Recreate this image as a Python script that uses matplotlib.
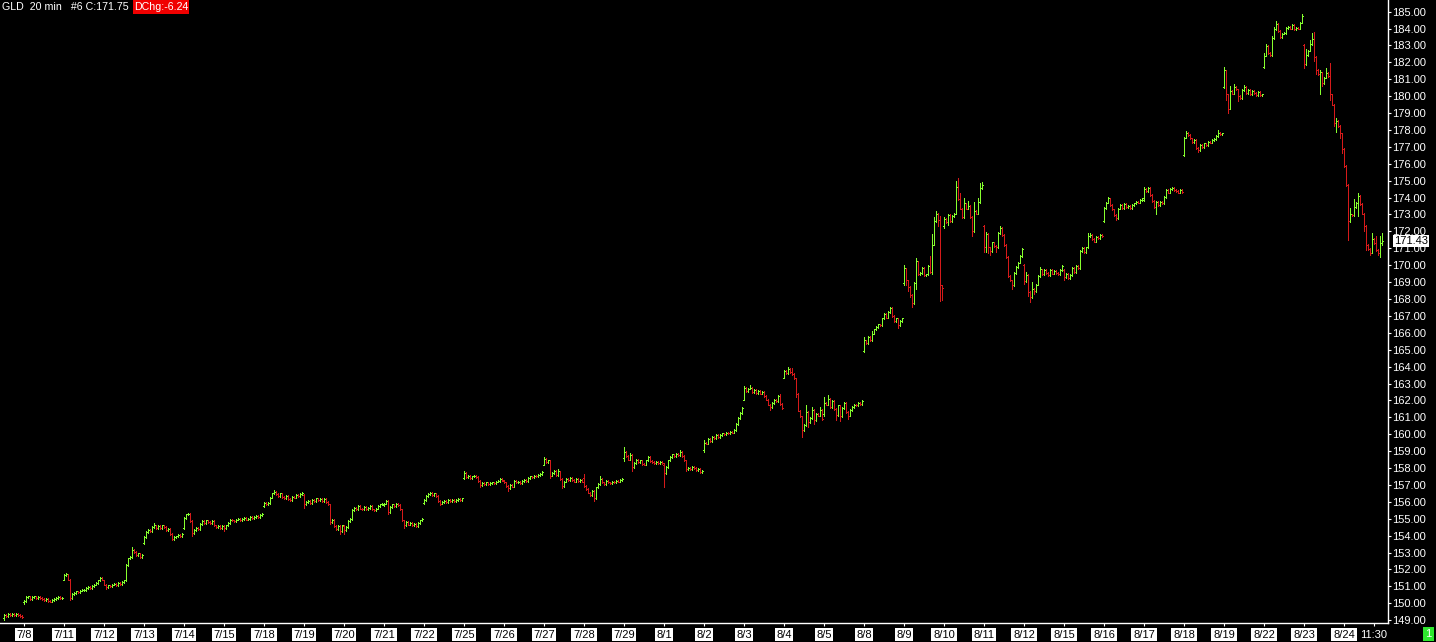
import matplotlib
matplotlib.use("Agg")
import matplotlib.pyplot as plt
from matplotlib.patches import Rectangle
from matplotlib.transforms import blended_transform_factory

plt.rcParams['font.family'] = ['Liberation Sans', 'DejaVu Sans']

# ---------------- data (20-min bars, GLD) ----------------
# each day: first open, closes per bar, high overrides {bar: high}, low overrides {bar: low}
day_labels = ["7/8", "7/11", "7/12", "7/13", "7/14", "7/15", "7/18", "7/19", "7/20",
              "7/21", "7/22", "7/25", "7/26", "7/27", "7/28", "7/29", "8/1", "8/2",
              "8/3", "8/4", "8/5", "8/8", "8/9", "8/10", "8/11", "8/12", "8/15",
              "8/16", "8/17", "8/18", "8/19", "8/22", "8/23", "8/24"]

open_0707 = 149.10
c_0707 = [149.30, 149.25, 149.35, 149.30, 149.35, 149.30, 149.35, 149.30, 149.25, 149.20]
hi_0707 = {}
lo_0707 = {0: 149.00}

open_0708 = 150.05
c_0708 = [150.15, 150.35, 150.40, 150.25, 150.35, 150.40, 150.30, 150.35, 150.30, 150.25,
          150.20, 150.25, 150.15, 150.10, 150.20, 150.25, 150.30, 150.35, 150.30, 150.30]
hi_0708 = {2: 150.45}
lo_0708 = {0: 149.98}

open_0711 = 151.40
c_0711 = [151.65, 151.70, 151.40, 150.30, 150.55, 150.60, 150.70, 150.65, 150.75, 150.80,
          150.80, 150.90, 150.95, 150.90, 151.00, 151.10, 151.20, 151.35, 151.50, 151.40]
hi_0711 = {1: 151.78}
lo_0711 = {3: 150.20}

open_0712 = 151.35
c_0712 = [151.10, 150.95, 151.05, 151.00, 151.10, 151.15, 151.05, 151.20, 151.15, 151.25,
          151.35, 152.25, 152.65, 152.75, 153.15, 153.05, 152.85, 152.95, 152.75, 152.85]
hi_0712 = {14: 153.35}
lo_0712 = {1: 150.85}

open_0713 = 153.55
c_0713 = [153.90, 154.20, 154.35, 154.25, 154.50, 154.60, 154.45, 154.55, 154.45, 154.60,
          154.50, 154.35, 154.40, 154.10, 153.80, 153.90, 153.95, 154.05, 153.95, 154.10]
hi_0713 = {5: 154.72}
lo_0713 = {14: 153.72}

open_0714 = 154.45
c_0714 = [155.05, 155.25, 155.30, 154.85, 154.15, 154.35, 154.45, 154.40, 154.70, 154.85,
          154.75, 154.90, 154.80, 154.75, 154.85, 154.60, 154.50, 154.55, 154.45, 154.55]
hi_0714 = {2: 155.35}
lo_0714 = {4: 154.00}

open_0715 = 154.55
c_0715 = [154.45, 154.60, 154.75, 154.95, 154.90, 154.85, 154.95, 155.00, 154.90, 155.00,
          155.05, 154.95, 155.00, 155.10, 155.05, 155.10, 155.15, 155.10, 155.20, 155.30]
hi_0715 = {}
lo_0715 = {0: 154.30}

open_0718 = 155.75
c_0718 = [155.95, 155.85, 155.95, 156.25, 156.50, 156.60, 156.45, 156.35, 156.50, 156.30,
          156.20, 156.35, 156.15, 156.10, 156.30, 156.25, 156.40, 156.35, 156.45, 156.55]
hi_0718 = {5: 156.68}
lo_0718 = {}

open_0719 = 156.40
c_0719 = [155.85, 156.00, 156.05, 155.95, 156.10, 156.05, 156.20, 156.10, 156.15, 156.05,
          156.15, 156.00, 155.85, 154.80, 154.95, 154.55, 154.40, 154.55, 154.25, 154.60]
hi_0719 = {}
lo_0719 = {0: 155.62, 13: 154.70, 18: 154.10}

open_0720 = 154.55
c_0720 = [154.35, 154.50, 154.85, 155.00, 155.50, 155.65, 155.55, 155.75, 155.60, 155.55,
          155.70, 155.55, 155.65, 155.75, 155.55, 155.50, 155.60, 155.75, 155.85, 155.90]
hi_0720 = {}
lo_0720 = {0: 154.12}

open_0721 = 155.80
c_0721 = [155.90, 156.05, 155.40, 155.70, 155.85, 155.75, 155.90, 155.80, 155.55, 154.90,
          154.60, 154.80, 154.65, 154.75, 154.60, 154.70, 154.55, 154.75, 154.90, 155.00]
hi_0721 = {}
lo_0721 = {2: 155.25, 10: 154.45}

open_0722 = 155.95
c_0722 = [156.10, 156.35, 156.45, 156.55, 156.40, 156.50, 156.35, 156.05, 155.90, 156.00,
          156.05, 156.00, 156.10, 156.05, 156.10, 156.05, 156.10, 156.15, 156.10, 156.20]
hi_0722 = {}
lo_0722 = {8: 155.82}

open_0725 = 157.40
c_0725 = [157.70, 157.45, 157.55, 157.40, 157.50, 157.55, 157.45, 157.25, 157.00, 157.10,
          157.05, 157.15, 157.05, 157.10, 157.15, 157.10, 157.20, 157.25, 157.35, 157.30]
hi_0725 = {0: 157.80}
lo_0725 = {8: 156.85}

open_0726 = 157.25
c_0726 = [157.15, 156.95, 156.80, 157.00, 156.90, 157.25, 157.15, 157.20, 157.10, 157.25,
          157.30, 157.25, 157.40, 157.50, 157.45, 157.55, 157.50, 157.60, 157.65, 157.75]
hi_0726 = {}
lo_0726 = {2: 156.65}

open_0727 = 158.20
c_0727 = [158.55, 158.35, 158.45, 157.55, 157.70, 157.85, 157.60, 157.80, 157.35, 156.95,
          157.20, 157.35, 157.30, 157.40, 157.30, 157.20, 157.35, 157.25, 157.30, 157.20]
hi_0727 = {0: 158.65, 7: 157.95}
lo_0727 = {3: 157.40, 9: 156.80}

open_0728 = 157.40
c_0728 = [156.95, 156.75, 156.55, 156.40, 156.65, 156.20, 156.85, 157.05, 157.35, 157.15,
          157.05, 157.25, 157.15, 157.10, 157.20, 157.15, 157.25, 157.20, 157.30, 157.35]
hi_0728 = {0: 157.65, 8: 157.50}
lo_0728 = {5: 156.05}

open_0729 = 158.60
c_0729 = [158.95, 158.70, 158.50, 158.75, 158.05, 158.30, 158.50, 158.35, 158.45, 158.25,
          158.20, 158.45, 158.65, 158.40, 158.35, 158.30, 158.35, 158.30, 158.35, 158.30]
hi_0729 = {0: 159.25, 3: 158.90}
lo_0729 = {0: 158.40, 4: 157.80}

open_0801 = 158.20
c_0801 = [157.70, 158.05, 158.45, 158.65, 158.80, 158.70, 158.85, 158.75, 158.95, 158.70,
          158.45, 157.95, 158.00, 157.95, 158.05, 158.00, 157.90, 157.95, 157.75, 157.85]
hi_0801 = {0: 158.30, 8: 159.05}
lo_0801 = {0: 156.90, 11: 157.80}

open_0802 = 159.05
c_0802 = [159.50, 159.45, 159.70, 159.60, 159.85, 159.75, 159.95, 159.85, 159.95, 160.05,
          160.00, 160.10, 160.05, 160.15, 160.10, 160.25, 160.60, 160.95, 161.25, 161.55]
hi_0802 = {0: 159.65}
lo_0802 = {0: 158.95}

open_0803 = 162.05
c_0803 = [162.75, 162.55, 162.70, 162.75, 162.50, 162.60, 162.45, 162.55, 162.40, 162.50,
          162.25, 162.05, 161.75, 161.60, 161.85, 162.05, 161.95, 162.25, 161.80, 161.55]
hi_0803 = {0: 162.85, 3: 162.90, 18: 162.40}
lo_0803 = {13: 161.45}

open_0804 = 163.35
c_0804 = [163.75, 163.60, 163.85, 163.70, 163.55, 163.30, 162.40, 161.40, 161.05, 160.25,
          160.55, 161.30, 160.70, 160.95, 161.45, 160.85, 161.20, 161.10, 161.45, 160.90]
hi_0804 = {2: 163.95, 4: 163.90, 11: 161.70, 14: 161.60, 18: 161.60}
lo_0804 = {6: 162.20, 9: 159.85, 12: 160.40, 15: 160.60}

open_0805 = 161.20
c_0805 = [161.85, 161.75, 162.10, 161.60, 161.95, 161.50, 161.15, 161.70, 161.05, 161.55,
          161.85, 161.30, 161.10, 161.45, 161.60, 161.75, 161.70, 161.85, 161.80, 161.95]
hi_0805 = {0: 162.20, 2: 162.30}
lo_0805 = {0: 161.10, 6: 160.85, 8: 160.80, 12: 160.90}

open_0808 = 164.90
c_0808 = [165.55, 165.40, 165.75, 165.55, 165.95, 166.20, 166.35, 166.50, 166.45, 166.85,
          167.10, 166.90, 167.25, 167.45, 167.00, 166.70, 166.85, 166.45, 166.70, 166.85]
hi_0808 = {0: 165.75, 4: 166.10, 10: 167.20, 13: 167.55}
lo_0808 = {0: 164.85, 17: 166.30}

open_0809 = 168.95
c_0809 = [169.85, 169.10, 168.70, 168.25, 167.75, 168.95, 170.25, 169.45, 169.55, 169.85,
          169.40, 169.45, 169.95, 169.60, 171.20, 172.60, 173.00, 172.70, 168.80, 168.65]
hi_0809 = {0: 170.00, 1: 169.70, 6: 170.40, 7: 169.95, 13: 170.55, 14: 171.85, 15: 172.85,
           16: 173.20, 17: 173.10, 18: 172.90}
lo_0809 = {0: 168.80, 1: 168.80, 2: 168.45, 3: 168.10, 4: 167.50, 6: 168.60, 14: 169.50,
           15: 171.30, 17: 172.30, 18: 167.90, 19: 167.95}

open_0810 = 172.30
c_0810 = [172.75, 172.55, 172.95, 172.60, 172.90, 173.05, 174.65, 173.90, 173.35, 172.85,
          173.65, 173.35, 173.50, 172.85, 172.00, 173.20, 173.05, 173.75, 174.55, 174.75]
hi_0810 = {0: 172.85, 2: 173.05, 6: 175.00, 7: 175.15, 8: 174.30, 10: 174.00, 12: 173.80,
           15: 173.75, 17: 174.00, 18: 174.85, 19: 174.95}
lo_0810 = {0: 172.20, 2: 172.35, 6: 173.25, 14: 171.75}

open_0811 = 172.30
c_0811 = [171.10, 171.85, 171.05, 170.85, 171.35, 171.15, 171.05, 171.90, 172.20, 171.80,
          171.20, 170.50, 169.35, 169.10, 168.80, 169.55, 169.90, 170.15, 170.55, 170.95]
hi_0811 = {0: 172.40, 1: 171.98, 8: 172.30}
lo_0811 = {0: 170.80, 1: 170.80, 2: 170.70, 3: 170.60, 6: 170.80, 14: 168.60}

open_0812 = 170.00
c_0812 = [169.05, 169.40, 168.40, 168.10, 168.60, 168.45, 168.85, 169.35, 169.75, 169.45,
          169.70, 169.55, 169.40, 169.70, 169.50, 169.65, 169.55, 169.45, 169.70, 169.95]
hi_0812 = {0: 170.05, 1: 169.60, 4: 169.00, 8: 169.90}
lo_0812 = {0: 168.90, 2: 168.20, 3: 167.80, 5: 168.30}

open_0815 = 169.70
c_0815 = [169.30, 169.50, 169.25, 169.40, 169.85, 169.60, 169.95, 169.85, 170.85, 171.00,
          170.80, 171.05, 171.70, 171.80, 171.55, 171.40, 171.65, 171.60, 171.80, 171.70]
hi_0815 = {12: 171.90, 13: 171.92}
lo_0815 = {0: 169.10, 8: 169.80}

open_0816 = 172.60
c_0816 = [173.40, 173.70, 173.95, 173.55, 173.30, 172.95, 172.80, 173.35, 173.55, 173.40,
          173.60, 173.45, 173.50, 173.40, 173.55, 173.65, 173.75, 173.70, 173.85, 173.95]
hi_0816 = {2: 174.05}
lo_0816 = {0: 172.55, 6: 172.70}

open_0817 = 173.85
c_0817 = [174.50, 174.40, 174.55, 174.15, 173.80, 173.45, 173.75, 173.55, 173.75, 173.65,
          174.05, 174.45, 174.30, 174.50, 174.55, 174.45, 174.40, 174.30, 174.45, 174.35]
hi_0817 = {0: 174.60, 2: 174.65}
lo_0817 = {6: 173.05}

open_0818 = 176.50
c_0818 = [177.55, 177.85, 177.70, 177.50, 177.30, 177.40, 176.95, 176.80, 177.10, 177.00,
          177.20, 177.10, 177.30, 177.25, 177.40, 177.45, 177.65, 177.85, 177.75, 177.80]
hi_0818 = {1: 177.92, 17: 178.00}
lo_0818 = {0: 176.45, 7: 176.70}

open_0819 = 180.55
c_0819 = [181.55, 180.10, 179.25, 180.30, 180.15, 180.55, 180.40, 180.00, 179.90, 180.35,
          180.55, 180.20, 180.35, 180.10, 180.30, 180.20, 180.05, 180.25, 180.05, 180.10]
hi_0819 = {0: 181.75, 1: 181.00, 3: 180.60, 5: 180.70, 10: 180.65}
lo_0819 = {0: 180.50, 1: 179.80, 2: 179.00, 3: 179.60, 7: 179.70}

open_0822 = 181.75
c_0822 = [182.40, 182.95, 182.55, 182.45, 183.45, 183.95, 184.25, 183.85, 183.50, 183.70,
          183.75, 184.05, 184.10, 184.00, 184.20, 183.95, 184.05, 184.00, 184.35, 184.75]
hi_0822 = {0: 182.55, 1: 183.10, 4: 183.55, 5: 184.10, 6: 184.45, 19: 184.85}
lo_0822 = {0: 181.65}

open_0823 = 183.00
c_0823 = [181.90, 182.45, 182.70, 183.10, 183.40, 182.30, 181.55, 181.30, 181.45, 180.75,
          181.10, 181.40, 181.20, 180.10, 179.50, 178.40, 178.55, 178.25, 177.80, 176.90]
hi_0823 = {0: 183.10, 1: 182.80, 3: 183.35, 4: 183.75, 5: 183.80, 8: 181.55, 9: 181.20,
           11: 181.65, 13: 181.95, 16: 178.70}
lo_0823 = {0: 181.65, 5: 182.10, 6: 181.30, 8: 180.10, 9: 180.60, 13: 179.80, 15: 178.25,
           16: 177.90, 18: 177.55, 19: 176.65}

open_0824 = 176.85
c_0824 = [175.85, 174.75, 172.60, 173.00, 172.95, 173.45, 173.70, 174.10, 173.60, 173.05,
          172.30, 171.20, 170.95, 170.75, 171.55, 171.30, 170.90, 170.75, 171.30, 171.43]
hi_0824 = {0: 176.95, 3: 173.40, 5: 173.90, 7: 174.30, 14: 171.90, 16: 171.75, 18: 171.70,
           19: 171.90}
lo_0824 = {2: 171.50, 3: 172.55, 7: 172.90, 10: 172.00, 11: 170.90, 13: 170.60, 17: 170.60,
           18: 170.50, 19: 171.20}

days = [
    (open_0707, c_0707, hi_0707, lo_0707), (open_0708, c_0708, hi_0708, lo_0708),
    (open_0711, c_0711, hi_0711, lo_0711), (open_0712, c_0712, hi_0712, lo_0712),
    (open_0713, c_0713, hi_0713, lo_0713), (open_0714, c_0714, hi_0714, lo_0714),
    (open_0715, c_0715, hi_0715, lo_0715), (open_0718, c_0718, hi_0718, lo_0718),
    (open_0719, c_0719, hi_0719, lo_0719), (open_0720, c_0720, hi_0720, lo_0720),
    (open_0721, c_0721, hi_0721, lo_0721), (open_0722, c_0722, hi_0722, lo_0722),
    (open_0725, c_0725, hi_0725, lo_0725), (open_0726, c_0726, hi_0726, lo_0726),
    (open_0727, c_0727, hi_0727, lo_0727), (open_0728, c_0728, hi_0728, lo_0728),
    (open_0729, c_0729, hi_0729, lo_0729), (open_0801, c_0801, hi_0801, lo_0801),
    (open_0802, c_0802, hi_0802, lo_0802), (open_0803, c_0803, hi_0803, lo_0803),
    (open_0804, c_0804, hi_0804, lo_0804), (open_0805, c_0805, hi_0805, lo_0805),
    (open_0808, c_0808, hi_0808, lo_0808), (open_0809, c_0809, hi_0809, lo_0809),
    (open_0810, c_0810, hi_0810, lo_0810), (open_0811, c_0811, hi_0811, lo_0811),
    (open_0812, c_0812, hi_0812, lo_0812), (open_0815, c_0815, hi_0815, lo_0815),
    (open_0816, c_0816, hi_0816, lo_0816), (open_0817, c_0817, hi_0817, lo_0817),
    (open_0818, c_0818, hi_0818, lo_0818), (open_0819, c_0819, hi_0819, lo_0819),
    (open_0822, c_0822, hi_0822, lo_0822), (open_0823, c_0823, hi_0823, lo_0823),
    (open_0824, c_0824, hi_0824, lo_0824),
]

last_price = 171.43
header_text = "GLD  20 min   #6 C:171.75"
chg_text = "DChg:-6.24"
time_label = "11:30"
y_ticks = list(range(149, 186))

# ---------------- build OHLC ----------------
WICK = 0.05
xs, O, Hh, Ll, C = [], [], [], [], []
day_start = []
idx = 0
for opn, closes, his, los in days:
    day_start.append(idx)
    prev = opn
    for k, cl in enumerate(closes):
        hi = max(his.get(k, max(prev, cl) + WICK), prev, cl)
        lo = min(los.get(k, min(prev, cl) - WICK), prev, cl)
        xs.append(idx); O.append(prev); Hh.append(hi); Ll.append(lo); C.append(cl)
        prev = cl
        idx += 1

GREEN = '#86FF2E'
RED = '#D51A1A'
cols = [GREEN if c >= o else RED for o, c in zip(O, C)]

W, H = 1436, 642
fig = plt.figure(figsize=(W / 100, H / 100), dpi=100, facecolor='black')
ax = fig.add_axes([0, 19 / H, 1388 / W, 623 / H], facecolor='black')

LW = 0.72
ax.vlines(xs, Ll, Hh, colors=cols, linewidth=LW, antialiased=False)
ax.hlines(O, [x - 0.45 for x in xs], xs, colors=cols, linewidth=LW, antialiased=False)
ax.hlines(C, xs, [x + 0.45 for x in xs], colors=cols, linewidth=LW, antialiased=False)

ax.set_xlim(-2, 692)
ax.set_ylim(148.83, 185.69)

for s in ['left', 'top']:
    ax.spines[s].set_visible(False)
for s in ['right', 'bottom']:
    ax.spines[s].set_color('white')
    ax.spines[s].set_linewidth(1.0)

ax.yaxis.tick_right()
ax.set_yticks(y_ticks)
ax.set_yticklabels([f"{v:.2f}" for v in y_ticks])
ax.tick_params(axis='y', colors='white', length=2.5, width=0.8, pad=0.8, labelsize=8)

tick_pos = day_start[1:] + [day_start[-1] + 15]
ax.set_xticks(tick_pos)
ax.set_xticklabels([])
ax.tick_params(axis='x', colors='white', length=2.5, width=0.8)

trans = blended_transform_factory(ax.transData, fig.transFigure)
ylab = (H - 634.5) / H
for pos, lab in zip(day_start[1:], day_labels):
    ax.text(pos, ylab, lab, transform=trans, ha='center', va='center', fontsize=8,
            color='black', clip_on=False,
            bbox=dict(boxstyle='square,pad=0.15', fc='white', ec='none'))
ax.text(day_start[-1] + 15, ylab, time_label, transform=trans, ha='center', va='center',
        fontsize=8, color='white', clip_on=False)

# last price tag
tr2 = blended_transform_factory(ax.transAxes, ax.transData)
ax.text(1 + 6 / 1388, last_price, f"{last_price:.2f}", transform=tr2, ha='left',
        va='center', fontsize=8, color='black', clip_on=False, zorder=10,
        bbox=dict(boxstyle='square,pad=0.12', fc='white', ec='none'))

# header
fig.text(2 / W, 1 - 7 / H, header_text, color='white', fontsize=7.7, ha='left', va='center')
fig.patches.append(Rectangle((133 / W, 1 - 14 / H), 56 / W, 14 / H, transform=fig.transFigure,
                             fc='#F00000', ec='none'))
fig.text(134 / W, 1 - 7 / H, chg_text, color='white', fontsize=7.7, ha='left', va='center')

# small green box bottom-right
fig.patches.append(Rectangle((1423 / W, 1 / H), 11 / W, 14 / H, transform=fig.transFigure,
                             fc='#2EE82E', ec='none'))
fig.text(1428.5 / W, 8 / H, "1", color='white', fontsize=8, ha='center', va='center')

fig.savefig("out.png", dpi=100, facecolor='black')
